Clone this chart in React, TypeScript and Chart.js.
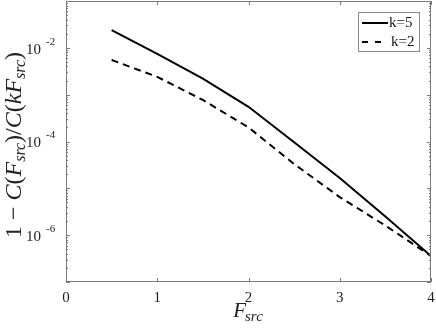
import React, { useEffect, useRef } from "react";
import { Chart, registerables } from "chart.js";

Chart.register(...registerables);

const fsrc = [0.5, 1, 1.5, 2, 2.5, 3, 3.5, 4];
const k5Values = [2.4e-2, 7.4e-3, 2.2e-3, 5.5e-4, 9.6e-5, 1.66e-5, 2.5e-6, 3.6e-7];
const k2Values = [5.5e-3, 2.4e-3, 7.7e-4, 2.0e-4, 3.3e-5, 6.5e-6, 1.6e-6, 3.6e-7];
const seriesLabels = ["k=5", "k=2"];
const xTicks = [0, 1, 2, 3, 4];
const yLabelExps = [-2, -4, -6];

const SERIF = '"Liberation Serif", "DejaVu Serif", serif';
const AXIS_COLOR = "#7a7a7a";

const decorPlugin = {
  id: "decor",
  afterDraw(chart: any) {
    const ctx = chart.ctx as CanvasRenderingContext2D;
    const { left, right, top, bottom } = chart.chartArea;
    const xs = chart.scales.x;
    const ys = chart.scales.y;
    ctx.save();
    // frame
    ctx.strokeStyle = AXIS_COLOR;
    ctx.lineWidth = 1;
    ctx.strokeRect(Math.round(left) + 0.5, Math.round(top) + 0.5, Math.round(right - left) - 1, Math.round(bottom - top) - 1);
    // x ticks
    ctx.beginPath();
    for (const t of xTicks) {
      const px = Math.round(xs.getPixelForValue(t)) + 0.5;
      ctx.moveTo(px, bottom);
      ctx.lineTo(px, bottom - 4);
      ctx.moveTo(px, top);
      ctx.lineTo(px, top + 4);
    }
    // y ticks (log)
    for (let e = -7; e <= -1; e++) {
      for (let m = 1; m <= 9; m++) {
        const v = m * Math.pow(10, e);
        if (v > 0.1 + 1e-12) continue;
        const py = Math.round(ys.getPixelForValue(v)) + 0.5;
        const len = m === 1 ? 4 : 2;
        ctx.moveTo(left, py);
        ctx.lineTo(left + len, py);
        ctx.moveTo(right, py);
        ctx.lineTo(right - len, py);
      }
    }
    ctx.stroke();

    ctx.fillStyle = "#222";
    // x tick labels
    ctx.font = `15px ${SERIF}`;
    ctx.textAlign = "center";
    ctx.textBaseline = "middle";
    for (const t of xTicks) {
      ctx.fillText(String(t), xs.getPixelForValue(t), 298);
    }
    // y tick labels
    for (const e of yLabelExps) {
      const py = ys.getPixelForValue(Math.pow(10, e));
      ctx.font = `15px ${SERIF}`;
      ctx.textAlign = "left";
      ctx.textBaseline = "middle";
      ctx.fillText("10", 26, py + 2);
      ctx.font = `11px ${SERIF}`;
      ctx.fillText(String(e), 46, py - 6);
    }

    // x axis label F_src
    const xc = (left + right) / 2;
    ctx.textBaseline = "alphabetic";
    ctx.textAlign = "left";
    ctx.font = `italic 21px ${SERIF}`;
    const wF = ctx.measureText("F").width;
    ctx.font = `italic 15px ${SERIF}`;
    const wS = ctx.measureText("src").width;
    const x0 = xc - (wF + wS) / 2;
    ctx.font = `italic 21px ${SERIF}`;
    ctx.fillText("F", x0, 317);
    ctx.font = `italic 15px ${SERIF}`;
    ctx.fillText("src", x0 + wF - 1, 321);

    // y axis label: 1 − C(F_src)/C(kF_src)
    const big = 24;
    const small = 16;
    const parts: [string, string, number][] = [
      ["1 − ", `${big}px ${SERIF}`, 0],
      ["C", `italic ${big}px ${SERIF}`, 0],
      ["(", `${big}px ${SERIF}`, 0],
      ["F", `italic ${big}px ${SERIF}`, 0],
      ["src", `italic ${small}px ${SERIF}`, 4],
      [")/", `${big}px ${SERIF}`, 0],
      ["C", `italic ${big}px ${SERIF}`, 0],
      ["(", `${big}px ${SERIF}`, 0],
      ["kF", `italic ${big}px ${SERIF}`, 0],
      ["src", `italic ${small}px ${SERIF}`, 4],
      [")", `${big}px ${SERIF}`, 0],
    ];
    let total = 0;
    const widths: number[] = [];
    for (const [s, f] of parts) {
      ctx.font = f;
      const w = ctx.measureText(s).width;
      widths.push(w);
      total += w;
    }
    ctx.translate(21, 145);
    ctx.rotate(-Math.PI / 2);
    let cx = -total / 2;
    parts.forEach(([s, f, dy], i) => {
      ctx.font = f;
      ctx.textAlign = "left";
      ctx.fillText(s, cx, dy);
      cx += widths[i];
    });
    ctx.setTransform(1, 0, 0, 1, 0, 0);

    // legend
    const lx = 358.5, ly = 12.5, lw = 61, lh = 39;
    ctx.fillStyle = "#fff";
    ctx.fillRect(lx, ly, lw, lh);
    ctx.strokeStyle = "#8a8a8a";
    ctx.lineWidth = 1;
    ctx.strokeRect(lx, ly, lw, lh);
    ctx.strokeStyle = "#000";
    ctx.lineWidth = 2;
    ctx.beginPath();
    ctx.moveTo(362, 23);
    ctx.lineTo(388, 23);
    ctx.stroke();
    ctx.setLineDash([6, 7]);
    ctx.beginPath();
    ctx.moveTo(362, 42);
    ctx.lineTo(388, 42);
    ctx.stroke();
    ctx.setLineDash([]);
    ctx.fillStyle = "#111";
    ctx.font = `15px ${SERIF}`;
    ctx.textAlign = "left";
    ctx.textBaseline = "middle";
    ctx.fillText(seriesLabels[0], 389, 23);
    ctx.fillText(seriesLabels[1], 391, 42);
    ctx.restore();
  },
};

export default function App() {
  const ref = useRef<HTMLCanvasElement | null>(null);
  useEffect(() => {
    document.body.style.margin = "0";
    if (!ref.current) return;
    const chart = new Chart(ref.current, {
      type: "line",
      data: {
        datasets: [
          {
            label: seriesLabels[0],
            data: fsrc.map((x, i) => ({ x, y: k5Values[i] })),
            borderColor: "#000",
            borderWidth: 2,
            pointRadius: 0,
            tension: 0,
          },
          {
            label: seriesLabels[1],
            data: fsrc.map((x, i) => ({ x, y: k2Values[i] })),
            borderColor: "#000",
            borderWidth: 2,
            borderDash: [7, 5],
            pointRadius: 0,
            tension: 0,
          },
        ],
      },
      options: {
        animation: false,
        responsive: false,
        devicePixelRatio: 1,
        layout: { padding: { left: 66, top: 1, right: 5, bottom: 48 } },
        plugins: { legend: { display: false }, tooltip: { enabled: false } },
        scales: {
          x: { type: "linear", min: 0, max: 4, display: false },
          y: { type: "logarithmic", min: 1e-7, max: 1e-1, display: false },
        },
      },
      plugins: [decorPlugin],
    });
    return () => chart.destroy();
  }, []);
  return (
    <div style={{ position: "absolute", left: 0, top: 0, width: 436, height: 330, background: "#fff" }}>
      <canvas ref={ref} width={436} height={330} style={{ display: "block" }} />
    </div>
  );
}
